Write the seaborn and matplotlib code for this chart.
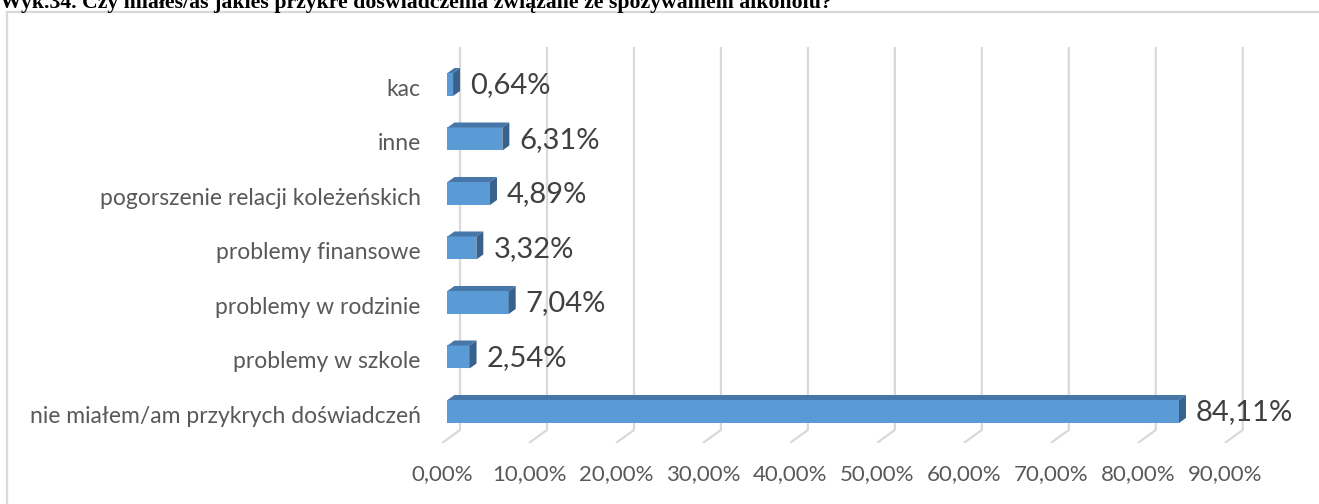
import matplotlib
matplotlib.use('Agg')
import numpy as np
import pandas as pd
import seaborn as sns
from matplotlib import pyplot as plt
from matplotlib import transforms
from matplotlib.patches import Polygon, Rectangle

categories = ['kac', 'inne', 'pogorszenie relacji koleżeńskich', 'problemy finansowe',
              'problemy w rodzinie', 'problemy w szkole', 'nie miałem/am przykrych doświadczeń']
values = [0.64, 6.31, 4.89, 3.32, 7.04, 2.54, 84.11]
tick_values = [0, 10, 20, 30, 40, 50, 60, 70, 80, 90]
title = 'Wyk.34. Czy miałeś/aś jakieś przykre doświadczenia związane ze spożywaniem alkoholu?'

FRONT = '#5B9BD5'
TOP = '#4677A8'
SIDE = '#38628C'
GRID = '#D9D9D9'
TEXT = '#595959'

# pseudo-3d offsets (data units)
BAR_DX, BAR_DY = 0.8, 0.092
BACK_DX, FRONT_DX = 1.44, -0.63
Y_TOP, Y_BACK, Y_FRONT = -0.688, 6.339, 6.578
BAR_H = 0.422

sns.set_theme(style='white')
plt.rcParams['font.family'] = ['Lato', 'DejaVu Sans']

fig = plt.figure(figsize=(13.19, 5.04), dpi=100)
ax = fig.add_axes([438.8 / 1319, 61 / 504, (1282.4 - 438.8) / 1319, 396 / 504])

df = pd.DataFrame({'cat': categories, 'val': values})

# gridlines with the oblique foot
for t in tick_values:
    ax.plot([t + BACK_DX, t + BACK_DX, t + FRONT_DX], [Y_TOP, Y_BACK, Y_FRONT],
            color=GRID, lw=1.6, zorder=0, solid_capstyle='butt')

sns.barplot(data=df, y='cat', x='val', orient='h', color=FRONT, saturation=1,
            width=BAR_H, ax=ax, zorder=3, linewidth=0)

for i, v in enumerate(values):
    top, bot = i - BAR_H / 2, i + BAR_H / 2
    ax.add_patch(Polygon([(0, top), (v, top), (v + BAR_DX, top - BAR_DY), (BAR_DX, top - BAR_DY)],
                         closed=True, facecolor=TOP, edgecolor='none', zorder=3))
    ax.add_patch(Polygon([(v, top), (v, bot), (v + BAR_DX, bot - BAR_DY), (v + BAR_DX, top - BAR_DY)],
                         closed=True, facecolor=SIDE, edgecolor='none', zorder=3))
    ax.annotate(f'{v:.2f}%'.replace('.', ','), xy=(v, i), xytext=(17, -1),
                textcoords='offset pixels', va='center', ha='left',
                fontsize=21, color='#404040')

ax.set_xlim(-1, 96)
ax.set_ylim(Y_FRONT, Y_TOP)
ax.set_xticks([t + FRONT_DX for t in tick_values])
ax.set_xticklabels([f'{t:.2f}%'.replace('.', ',') for t in tick_values], fontsize=16, color=TEXT)
ax.tick_params(axis='x', length=0, pad=15)
ax.tick_params(axis='y', length=0, pad=13)
shift = transforms.ScaledTranslation(0, -3 / 100, fig.dpi_scale_trans)
for lab in ax.get_yticklabels():
    lab.set_fontsize(16.5)
    lab.set_color(TEXT)
    lab.set_transform(lab.get_transform() + shift)
ax.set_xlabel('')
ax.set_ylabel('')
sns.despine(ax=ax, left=True, bottom=True)
ax.patch.set_alpha(0)

# chart frame and the cut-off title
fig.patches.append(Rectangle((6.5 / 1319, -0.1), 1.2, (504 - 11.5) / 504 + 0.1,
                             transform=fig.transFigure, fill=False, edgecolor=GRID, lw=1.6))
fig.text(0, 1 - 8 / 504, title, family=['Liberation Serif'], weight='bold',
         fontsize=15.7, color='black', va='baseline', ha='left')

fig.savefig('out.png', dpi=100)
